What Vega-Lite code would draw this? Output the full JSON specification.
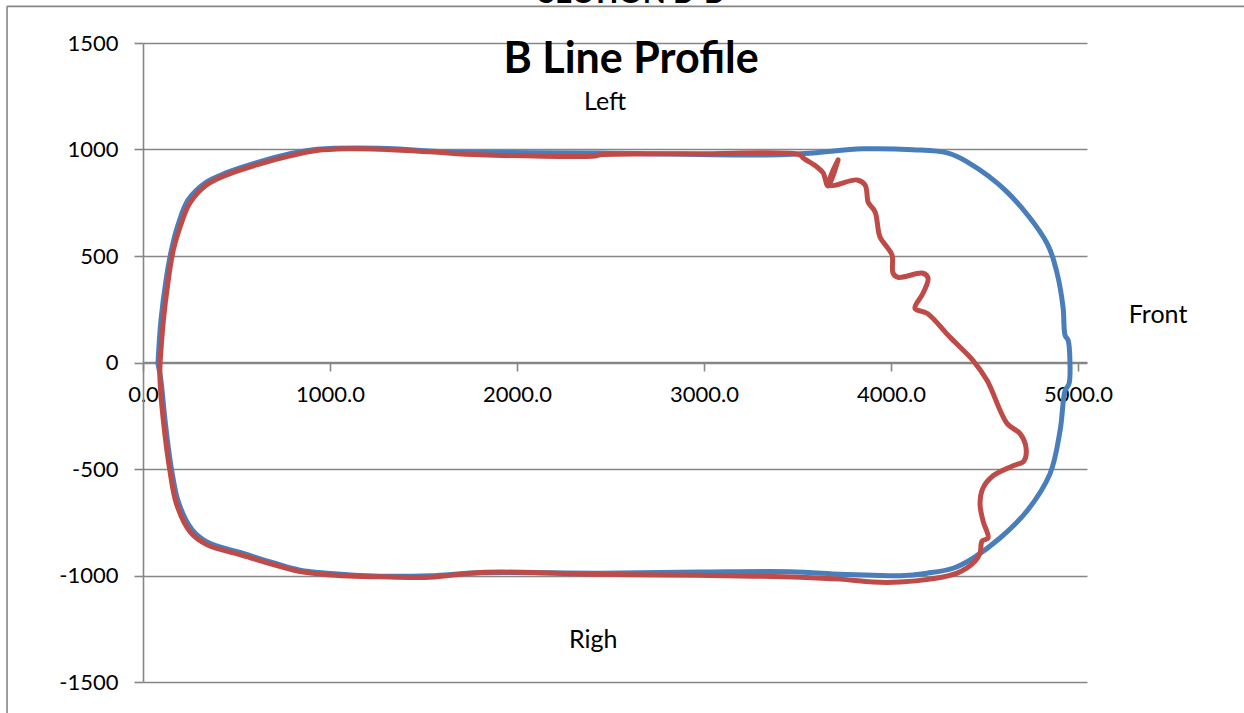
{
  "$schema": "https://vega.github.io/schema/vega-lite/v6.json",
  "width": 944,
  "height": 639,
  "autosize": {"type": "none"},
  "padding": {"left": 143, "top": 43, "right": 157, "bottom": 31},
  "background": "white",
  "config": {"view": {"stroke": null}, "font": "Lato"},
  "datasets": {
    "profile": [
      {"series": "Blue", "i": 1, "x": 80, "y": -5},
      {"series": "Blue", "i": 2, "x": 96, "y": 198},
      {"series": "Blue", "i": 3, "x": 123, "y": 386},
      {"series": "Blue", "i": 4, "x": 152, "y": 528},
      {"series": "Blue", "i": 5, "x": 187, "y": 645},
      {"series": "Blue", "i": 6, "x": 241, "y": 763},
      {"series": "Blue", "i": 7, "x": 332, "y": 843},
      {"series": "Blue", "i": 8, "x": 444, "y": 890},
      {"series": "Blue", "i": 9, "x": 604, "y": 937},
      {"series": "Blue", "i": 10, "x": 786, "y": 980},
      {"series": "Blue", "i": 11, "x": 931, "y": 1001},
      {"series": "Blue", "i": 12, "x": 1267, "y": 1006},
      {"series": "Blue", "i": 13, "x": 1642, "y": 989},
      {"series": "Blue", "i": 14, "x": 2444, "y": 984},
      {"series": "Blue", "i": 15, "x": 3407, "y": 975},
      {"series": "Blue", "i": 16, "x": 3583, "y": 984},
      {"series": "Blue", "i": 17, "x": 3850, "y": 1003},
      {"series": "Blue", "i": 18, "x": 4118, "y": 999},
      {"series": "Blue", "i": 19, "x": 4300, "y": 984},
      {"series": "Blue", "i": 20, "x": 4407, "y": 942},
      {"series": "Blue", "i": 21, "x": 4620, "y": 801},
      {"series": "Blue", "i": 22, "x": 4834, "y": 560},
      {"series": "Blue", "i": 23, "x": 4888, "y": 419},
      {"series": "Blue", "i": 24, "x": 4920, "y": 259},
      {"series": "Blue", "i": 25, "x": 4931, "y": 127},
      {"series": "Blue", "i": 26, "x": 4947, "y": 104},
      {"series": "Blue", "i": 27, "x": 4957, "y": -5},
      {"series": "Blue", "i": 28, "x": 4952, "y": -99},
      {"series": "Blue", "i": 29, "x": 4931, "y": -132},
      {"series": "Blue", "i": 30, "x": 4904, "y": -320},
      {"series": "Blue", "i": 31, "x": 4850, "y": -523},
      {"series": "Blue", "i": 32, "x": 4727, "y": -697},
      {"series": "Blue", "i": 33, "x": 4583, "y": -824},
      {"series": "Blue", "i": 34, "x": 4439, "y": -918},
      {"series": "Blue", "i": 35, "x": 4332, "y": -966},
      {"series": "Blue", "i": 36, "x": 4193, "y": -989},
      {"series": "Blue", "i": 37, "x": 4048, "y": -1001},
      {"series": "Blue", "i": 38, "x": 3904, "y": -999},
      {"series": "Blue", "i": 39, "x": 3727, "y": -994},
      {"series": "Blue", "i": 40, "x": 3460, "y": -982},
      {"series": "Blue", "i": 41, "x": 2979, "y": -984},
      {"series": "Blue", "i": 42, "x": 2444, "y": -989},
      {"series": "Blue", "i": 43, "x": 1802, "y": -987},
      {"series": "Blue", "i": 44, "x": 1535, "y": -1001},
      {"series": "Blue", "i": 45, "x": 1267, "y": -1003},
      {"series": "Blue", "i": 46, "x": 984, "y": -989},
      {"series": "Blue", "i": 47, "x": 840, "y": -975},
      {"series": "Blue", "i": 48, "x": 695, "y": -940},
      {"series": "Blue", "i": 49, "x": 524, "y": -893},
      {"series": "Blue", "i": 50, "x": 348, "y": -845},
      {"series": "Blue", "i": 51, "x": 262, "y": -784},
      {"series": "Blue", "i": 52, "x": 190, "y": -657},
      {"series": "Blue", "i": 53, "x": 152, "y": -499},
      {"series": "Blue", "i": 54, "x": 118, "y": -273},
      {"series": "Blue", "i": 55, "x": 96, "y": -85},
      {"series": "Blue", "i": 56, "x": 80, "y": -5},
      {"series": "Red", "i": 1, "x": 91, "y": -5},
      {"series": "Red", "i": 2, "x": 109, "y": 198},
      {"series": "Red", "i": 3, "x": 135, "y": 386},
      {"series": "Red", "i": 4, "x": 162, "y": 528},
      {"series": "Red", "i": 5, "x": 198, "y": 636},
      {"series": "Red", "i": 6, "x": 251, "y": 749},
      {"series": "Red", "i": 7, "x": 341, "y": 834},
      {"series": "Red", "i": 8, "x": 448, "y": 881},
      {"series": "Red", "i": 9, "x": 608, "y": 928},
      {"series": "Red", "i": 10, "x": 786, "y": 970},
      {"series": "Red", "i": 11, "x": 929, "y": 995},
      {"series": "Red", "i": 12, "x": 1089, "y": 1003},
      {"series": "Red", "i": 13, "x": 1267, "y": 1001},
      {"series": "Red", "i": 14, "x": 1535, "y": 989},
      {"series": "Red", "i": 15, "x": 1802, "y": 975},
      {"series": "Red", "i": 16, "x": 2417, "y": 970},
      {"series": "Red", "i": 17, "x": 2444, "y": 975},
      {"series": "Red", "i": 18, "x": 2979, "y": 980},
      {"series": "Red", "i": 19, "x": 3513, "y": 975},
      {"series": "Red", "i": 20, "x": 3529, "y": 961},
      {"series": "Red", "i": 21, "x": 3604, "y": 918},
      {"series": "Red", "i": 22, "x": 3637, "y": 890},
      {"series": "Red", "i": 23, "x": 3663, "y": 829},
      {"series": "Red", "i": 24, "x": 3717, "y": 951},
      {"series": "Red", "i": 25, "x": 3669, "y": 834},
      {"series": "Red", "i": 26, "x": 3818, "y": 857},
      {"series": "Red", "i": 27, "x": 3861, "y": 834},
      {"series": "Red", "i": 28, "x": 3877, "y": 754},
      {"series": "Red", "i": 29, "x": 3888, "y": 739},
      {"series": "Red", "i": 30, "x": 3915, "y": 707},
      {"series": "Red", "i": 31, "x": 3941, "y": 589},
      {"series": "Red", "i": 32, "x": 3979, "y": 542},
      {"series": "Red", "i": 33, "x": 4006, "y": 504},
      {"series": "Red", "i": 34, "x": 4011, "y": 419},
      {"series": "Red", "i": 35, "x": 4038, "y": 400},
      {"series": "Red", "i": 36, "x": 4171, "y": 419},
      {"series": "Red", "i": 37, "x": 4198, "y": 396},
      {"series": "Red", "i": 38, "x": 4171, "y": 325},
      {"series": "Red", "i": 39, "x": 4128, "y": 254},
      {"series": "Red", "i": 40, "x": 4193, "y": 231},
      {"series": "Red", "i": 41, "x": 4316, "y": 118},
      {"series": "Red", "i": 42, "x": 4439, "y": 9},
      {"series": "Red", "i": 43, "x": 4514, "y": -85},
      {"series": "Red", "i": 44, "x": 4621, "y": -287},
      {"series": "Red", "i": 45, "x": 4690, "y": -334},
      {"series": "Red", "i": 46, "x": 4722, "y": -400},
      {"series": "Red", "i": 47, "x": 4711, "y": -462},
      {"series": "Red", "i": 48, "x": 4653, "y": -485},
      {"series": "Red", "i": 49, "x": 4546, "y": -532},
      {"series": "Red", "i": 50, "x": 4492, "y": -589},
      {"series": "Red", "i": 51, "x": 4476, "y": -664},
      {"series": "Red", "i": 52, "x": 4492, "y": -744},
      {"series": "Red", "i": 53, "x": 4519, "y": -824},
      {"series": "Red", "i": 54, "x": 4487, "y": -838},
      {"series": "Red", "i": 55, "x": 4476, "y": -895},
      {"series": "Red", "i": 56, "x": 4449, "y": -933},
      {"series": "Red", "i": 57, "x": 4353, "y": -989},
      {"series": "Red", "i": 58, "x": 4209, "y": -1017},
      {"series": "Red", "i": 59, "x": 4048, "y": -1031},
      {"series": "Red", "i": 60, "x": 3904, "y": -1031},
      {"series": "Red", "i": 61, "x": 3727, "y": -1017},
      {"series": "Red", "i": 62, "x": 3513, "y": -1008},
      {"series": "Red", "i": 63, "x": 2979, "y": -999},
      {"series": "Red", "i": 64, "x": 2444, "y": -994},
      {"series": "Red", "i": 65, "x": 1909, "y": -984},
      {"series": "Red", "i": 66, "x": 1749, "y": -989},
      {"series": "Red", "i": 67, "x": 1535, "y": -1008},
      {"series": "Red", "i": 68, "x": 1267, "y": -1006},
      {"series": "Red", "i": 69, "x": 982, "y": -996},
      {"series": "Red", "i": 70, "x": 840, "y": -982},
      {"series": "Red", "i": 71, "x": 697, "y": -949},
      {"series": "Red", "i": 72, "x": 519, "y": -902},
      {"series": "Red", "i": 73, "x": 341, "y": -855},
      {"series": "Red", "i": 74, "x": 251, "y": -794},
      {"series": "Red", "i": 75, "x": 180, "y": -666},
      {"series": "Red", "i": 76, "x": 144, "y": -509},
      {"series": "Red", "i": 77, "x": 109, "y": -273},
      {"series": "Red", "i": 78, "x": 91, "y": -85},
      {"series": "Red", "i": 79, "x": 91, "y": -5}
    ],
    "border": [
      {"x": -727, "y": 1672, "x2": -727, "y2": -2300},
      {"x": -727, "y": 1672, "x2": 6300, "y2": 1672}
    ],
    "labels": [
      {"label": "Left", "x": 2471, "y": 1187},
      {"label": "Front", "x": 5428, "y": 184},
      {"label": "Righ", "x": 2407, "y": -1342}
    ],
    "titles": [
      {"label": "B Line Profile", "x": 2610, "y": 1361}
    ],
    "section": [
      {"label": "SECTION B-B", "x": 2610, "y": 1690}
    ]
  },
  "layer": [
    {
      "data": {"name": "profile"},
      "mark": {"type": "line", "interpolate": "catmull-rom", "strokeWidth": 5, "strokeCap": "round", "strokeJoin": "round"},
      "encoding": {
        "x": {
          "field": "x", "type": "quantitative",
          "scale": {"domain": [0, 5048], "nice": false, "zero": false},
          "axis": {
            "orient": "bottom", "offset": -320, "title": null,
            "values": [0, 1000, 2000, 3000, 4000, 5000], "format": ".1f",
            "grid": false, "domainColor": "#868686", "domainWidth": 1.6,
            "tickColor": "#868686", "tickWidth": 1.6, "tickSize": 9,
            "labelFont": "Lato", "labelFontSize": 22, "labelColor": "black",
            "labelPadding": 13, "labelFlush": false, "labelOverlap": false,
            "zindex": 0
          }
        },
        "y": {
          "field": "y", "type": "quantitative",
          "scale": {"domain": [-1500, 1500], "nice": false, "zero": false},
          "axis": {
            "title": null, "values": [-1500, -1000, -500, 0, 500, 1000, 1500],
            "labelExpr": "toString(datum.value)",
            "grid": true, "gridColor": "#868686", "gridWidth": 1.6,
            "domainColor": "#868686", "domainWidth": 1.6,
            "tickColor": "#868686", "tickWidth": 1.6, "tickSize": 9,
            "labelFont": "Lato", "labelFontSize": 22, "labelColor": "black",
            "labelPadding": 16, "labelFlush": false, "labelOverlap": false,
            "zindex": 0
          }
        },
        "color": {
          "field": "series", "type": "nominal",
          "scale": {"domain": ["Blue", "Red"], "range": ["#4A7EBB", "#BE4B48"]},
          "legend": null
        },
        "order": {"field": "i", "type": "quantitative"}
      }
    },
    {
      "data": {"name": "border"},
      "mark": {"type": "rule", "color": "#868686", "strokeWidth": 1.6},
      "encoding": {
        "x": {"field": "x", "type": "quantitative"},
        "y": {"field": "y", "type": "quantitative"},
        "x2": {"field": "x2"},
        "y2": {"field": "y2"}
      }
    },
    {
      "data": {"name": "labels"},
      "mark": {"type": "text", "font": "Lato", "fontSize": 25, "color": "black", "align": "center", "baseline": "alphabetic"},
      "encoding": {
        "x": {"field": "x", "type": "quantitative"},
        "y": {"field": "y", "type": "quantitative"},
        "text": {"field": "label"}
      }
    },
    {
      "data": {"name": "titles"},
      "mark": {"type": "text", "font": "Lato", "fontSize": 43, "fontWeight": "bold", "color": "black", "align": "center", "baseline": "alphabetic"},
      "encoding": {
        "x": {"field": "x", "type": "quantitative"},
        "y": {"field": "y", "type": "quantitative"},
        "text": {"field": "label"}
      }
    },
    {
      "data": {"name": "section"},
      "mark": {"type": "text", "font": "Lato", "fontSize": 30, "fontWeight": "bold", "color": "black", "align": "center", "baseline": "alphabetic"},
      "encoding": {
        "x": {"field": "x", "type": "quantitative"},
        "y": {"field": "y", "type": "quantitative"},
        "text": {"field": "label"}
      }
    }
  ]
}
